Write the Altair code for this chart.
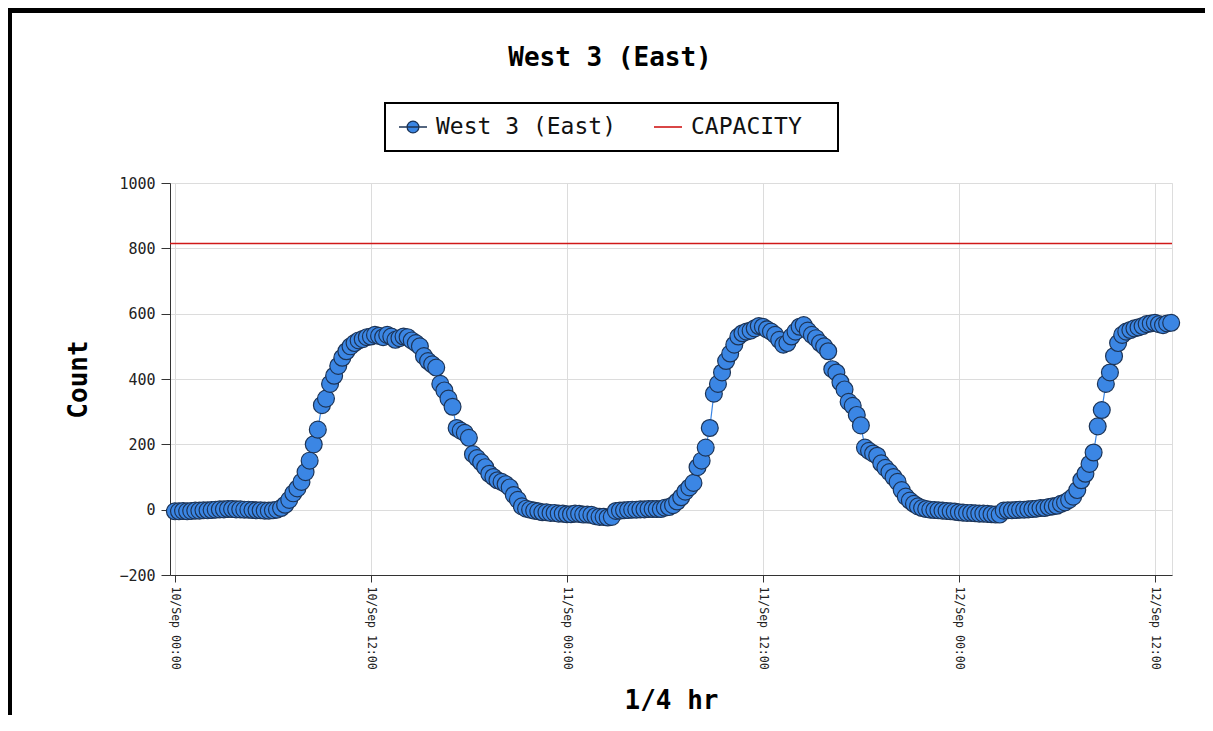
import altair as alt
import pandas as pd

series_name = "West 3 (East)"
capacity_name = "CAPACITY"
capacity_value = [815]

# 15-minute counts, one list per day (starting at 00:00)
sep10 = [-5, -5, -4, -5, -4, -3, -3, -2, -2, -1, 0, 1, 1, 2, 2, 1, 1, 0, 0, -1, -2, -2, -3, -3, -2, 0,
         5, 15, 30, 50, 65, 85, 115, 150, 200, 245, 320, 340, 385, 410, 440, 465, 485, 500, 510, 518,
         522, 528, 530, 535, 532, 528, 535, 530, 520, 525, 530, 528, 518, 510,
         500, 470, 455, 445, 435, 385, 365, 340, 315, 250, 242, 235, 220, 170, 158, 145, 130, 110, 100, 90,
         85, 78, 68, 45, 30, 10, 3, 0, -3, -5, -8, -8, -10, -10, -12, -12]
sep11 = [-14, -14, -12, -13, -15, -15, -16, -20, -22, -22, -24, -22,
         -4, -3, -2, -1, 0, 0, 1, 1, 2, 2, 2, 2,
         6, 8, 14, 25, 38, 55, 68, 82, 130, 150, 190, 250, 355, 385, 420, 455, 478, 505, 530, 540,
         545, 548, 555, 562, 560, 552, 545, 535, 520, 505, 510, 530, 545, 560, 565, 548, 535, 525,
         510, 500, 485, 430, 420, 390, 368, 330, 318, 290, 258, 190, 180, 172, 165, 142, 128, 115,
         100, 85, 60, 40, 28, 18, 10, 5, 2, 0, -1, -2, -3, -4, -5, -6]
sep12 = [-8, -9, -10, -10, -11, -12, -12, -13, -14, -15, -15,
         -3, -2, -2, -1, 0, 0, 1,
         2, 3, 5, 5, 8, 10, 12, 18, 22, 30, 40, 60, 90, 110, 140, 175, 255, 305, 385, 420, 470, 510,
         535, 545, 550, 555, 558, 562, 568, 570, 572, 568, 565, 570, 572]

counts = sep10 + sep11 + sep12
times = pd.date_range("2023-09-10 00:00", periods=len(counts), freq="15min")
df = pd.DataFrame({"time": times, "count": counts, "series": series_name})
cap_df = pd.DataFrame({"count": capacity_value, "series": [capacity_name]})

tick_hours = [(10, 0), (10, 12), (11, 0), (11, 12), (12, 0), (12, 12)]
y_ticks = [-200, 0, 200, 400, 600, 800, 1000]

BLUE = "#3b86e4"
DARK = "#1c3457"
RED = "#d01818"
MONO = "DejaVu Sans Mono"

x_ticks = [alt.DateTime(year=2023, month=9, date=d, hours=h) for d, h in tick_hours]
x_domain = [alt.DateTime(year=2023, month=9, date=9, hours=23, minutes=42),
            alt.DateTime(year=2023, month=9, date=12, hours=13, minutes=3)]

SYM_PATH = "M-1,0L1,0M0.42,0A0.42,0.42,0,1,1,-0.42,0A0.42,0.42,0,1,1,0.42,0Z"

legend_common = dict(title=None, orient="none", direction="horizontal",
                     labelFont=MONO, labelFontSize=23, labelColor="#111", labelOffset=8,
                     labelLimit=500, symbolSize=784, padding=0)

series_legend = alt.Legend(legendX=228, legendY=-71, symbolType=SYM_PATH,
                           symbolStrokeColor=DARK, symbolFillColor=BLUE, symbolStrokeWidth=1.3,
                           **legend_common)
cap_legend = alt.Legend(legendX=483, legendY=-71, symbolType="stroke",
                        symbolStrokeWidth=1.6, **legend_common)

x = alt.X("time:T", scale=alt.Scale(domain=x_domain),
          axis=alt.Axis(values=x_ticks, format="%d/%b %H:%M", labelAngle=90, title="1/4 hr",
                        labelFont=MONO, labelFontSize=11.5, labelColor="#222", labelPadding=4,
                        tickSize=7, tickColor="#333", domainColor="#333",
                        gridColor="#dcdcdc", titleFont=MONO, titleFontSize=26, titleFontWeight="bold",
                        titleColor="#000", titlePadding=18))
y = alt.Y("count:Q", scale=alt.Scale(domain=[-200, 1000], nice=False, zero=False),
          axis=alt.Axis(values=y_ticks, format="d", title="Count", labelFont=MONO, labelFontSize=15,
                        labelColor="#222", labelPadding=6, tickSize=9, tickColor="#333",
                        domainColor="#333", gridColor="#dcdcdc", titleFont=MONO, titleFontSize=26,
                        titleFontWeight="bold", titleColor="#000", titlePadding=27))

line = alt.Chart(df).mark_line(strokeWidth=1.2, color=BLUE).encode(x=x, y=y)
points = alt.Chart(df).mark_circle(size=285, opacity=1, stroke=DARK, strokeWidth=1.2).encode(
    x=x, y=y,
    fill=alt.Fill("series:N", scale=alt.Scale(domain=[series_name], range=[BLUE]),
                  legend=series_legend))
cap = alt.Chart(cap_df).mark_rule(strokeWidth=1.4).encode(
    y=alt.Y("count:Q"),
    stroke=alt.Stroke("series:N", scale=alt.Scale(domain=[capacity_name], range=[RED]),
                      legend=cap_legend))

# decorative frames: outer border (top/left) and legend box
frame = alt.Chart(cap_df).mark_rect(fillOpacity=0, stroke="black", strokeWidth=5).encode(
    x=alt.value(-160.5), x2=alt.value(1200), y=alt.value(-172.5), y2=alt.value(700))
legend_box = alt.Chart(cap_df).mark_rect(fillOpacity=0, stroke="black", strokeWidth=2).encode(
    x=alt.value(215), x2=alt.value(668), y=alt.value(-80), y2=alt.value(-32))

chart = alt.layer(cap, line, points, frame, legend_box).properties(
    width=1002, height=392,
    autosize=alt.AutoSizeParams(type="none"),
    padding={"left": 162, "top": 175, "right": 33, "bottom": 140},
    title=alt.TitleParams("West 3 (East)", font=MONO, fontSize=26, fontWeight="bold",
                          color="#000", anchor="middle", frame="group", dx=-61, offset=-63),
).configure_view(strokeWidth=0).configure(background="white")

chart.save("out.html", embed_options={"renderer": "svg", "actions": False})
